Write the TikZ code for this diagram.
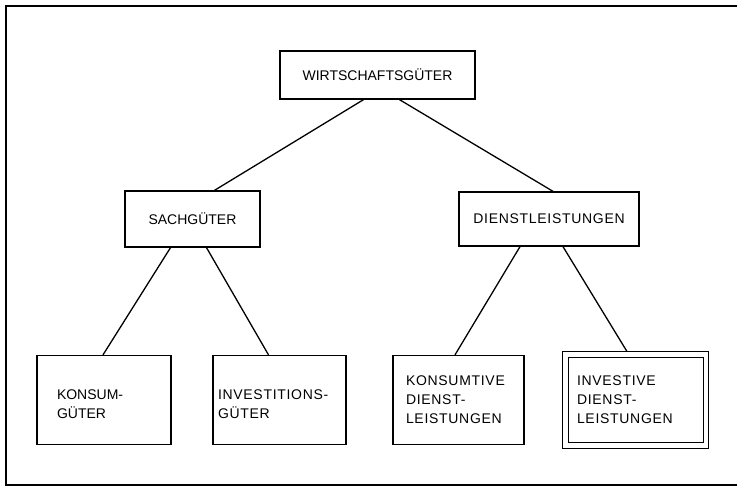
\documentclass[tikz,border=0pt]{standalone}
\usepackage{fontspec}
\setmainfont{Liberation Sans}
\newfontfamily\widefont[LetterSpace=5]{Liberation Sans}
\usetikzlibrary{shapes,arrows,positioning}
\tikzstyle{block} = [rectangle,draw,line width=1.3pt,inner sep=0pt,
  font=\fontsize{14}{19}\selectfont]
\tikzstyle{leaf} = [block,minimum height=89pt,align=left]
\tikzstyle{line} = [draw,line width=1.3pt]

\begin{document}
\begin{tikzpicture}[x=1pt,y=1pt,node distance = 144pt]
\useasboundingbox (0,0) rectangle (737,-488);
\draw [line width=1.2pt] (737,-6) -- (6,-6) -- (6,-485) -- (737,-485);

\node [block, minimum width=195pt, minimum height=48pt] at (377.5,-75) (goods) {WIRTSCHAFTSGÜTER};
\node [block, below of=goods, xshift=-185pt, minimum width=135pt, minimum height=56pt] (material_goods) {SACHGÜTER};
\node [block, below of=goods, xshift=171.5pt, minimum width=180pt, minimum height=54pt] (services) {\widefont DIENSTLEISTUNGEN};

\path [line] ([xshift=-14pt]goods.south) -- ([xshift=22pt]material_goods.north);
\path [line] ([xshift=22pt]goods.south) -- ([xshift=4pt]services.north);

\begin{scope}[node distance = 181pt]

\node [leaf, below of=material_goods, xshift=-88.5pt, minimum width=134pt, text width=94pt] (consumer_goods) {\mbox{}\\KONSUM-\\GÜTER};
\node [leaf, below of=material_goods, xshift=87pt, minimum width=133pt, text width=123pt] (capital_goods) {\mbox{}\\\widefont INVESTITIONS-\\GÜTER};

\path [line] ([xshift=-22pt]material_goods.south) -- ([xshift=-1pt]consumer_goods.north);
\path [line] ([xshift=14pt]material_goods.south) -- ([xshift=-11pt]capital_goods.north);

\node [leaf, below of=services, xshift=-90.5pt, minimum width=131pt, text width=105pt] (consumer_services) {\widefont KONSUMTIVE\\DIENST-\\LEISTUNGEN};
\node [leaf, below of=services, xshift=86.75pt, minimum width=140.5pt, minimum height=91pt, text width=117.5pt,
  line width=1.2pt, double, double distance=4.5pt] (capital_services) {\widefont INVESTIVE\\DIENST-\\LEISTUNGEN};

\path [line] ([xshift=-29pt]services.south) -- ([xshift=-3.5pt]consumer_services.north);
\path [line] ([xshift=14pt]services.south) -- ([xshift=-9pt,yshift=2.8pt]capital_services.north);

\end{scope}
\end{tikzpicture}
\end{document}
